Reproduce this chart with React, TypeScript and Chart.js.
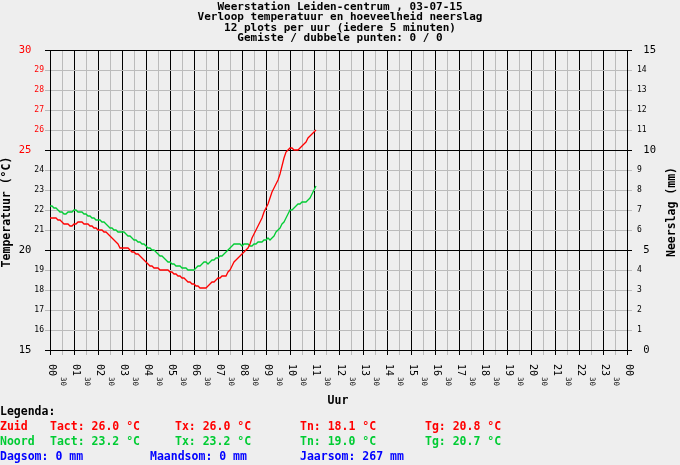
import { useEffect, useRef } from 'react';
import { Chart, registerables } from 'chart.js';

Chart.register(...registerables);

const titleLines = [
  'Weerstation Leiden-centrum , 03-07-15',
  'Verloop temperatuur en hoeveelheid neerslag',
  '12 plots per uur (iedere 5 minuten)',
  'Gemiste / dubbele punten: 0 / 0',
];

// one reading every 5 minutes, starting at 00:00
const zuidTemp = [
  21.6, 21.6, 21.6, 21.6, 21.5, 21.5, 21.4, 21.3, 21.3, 21.3,
  21.2, 21.2, 21.3, 21.3, 21.4, 21.4, 21.4, 21.3, 21.3, 21.3,
  21.2, 21.2, 21.1, 21.1, 21.0, 21.0, 21.0, 20.9, 20.9, 20.8,
  20.7, 20.6, 20.5, 20.4, 20.3, 20.1, 20.1, 20.1, 20.1, 20.1,
  20.0, 19.9, 19.9, 19.8, 19.8, 19.7, 19.6, 19.5, 19.4, 19.3,
  19.2, 19.2, 19.1, 19.1, 19.1, 19.0, 19.0, 19.0, 19.0, 19.0,
  18.9, 18.9, 18.8, 18.8, 18.7, 18.7, 18.6, 18.6, 18.5, 18.4,
  18.4, 18.3, 18.3, 18.2, 18.2, 18.1, 18.1, 18.1, 18.1, 18.2,
  18.3, 18.4, 18.4, 18.5, 18.6, 18.6, 18.7, 18.7, 18.7, 18.9,
  19.0, 19.2, 19.4, 19.5, 19.6, 19.7, 19.8, 19.9, 20.0, 20.1,
  20.3, 20.6, 20.8, 21.0, 21.2, 21.4, 21.6, 21.9, 22.1, 22.3,
  22.6, 22.9, 23.1, 23.3, 23.5, 23.8, 24.2, 24.6, 24.9, 25.0,
  25.1, 25.1, 25.0, 25.0, 25.0, 25.1, 25.2, 25.3, 25.4, 25.6,
  25.7, 25.8, 25.9, 26.0,
];

const noordTemp = [
  22.2, 22.2, 22.1, 22.1, 22.0, 21.9, 21.9, 21.8, 21.8, 21.9,
  21.9, 21.9, 22.0, 22.0, 21.9, 21.9, 21.9, 21.8, 21.8, 21.7,
  21.7, 21.6, 21.6, 21.5, 21.5, 21.5, 21.4, 21.4, 21.3, 21.2,
  21.1, 21.1, 21.0, 21.0, 20.9, 20.9, 20.9, 20.9, 20.8, 20.7,
  20.7, 20.6, 20.5, 20.5, 20.4, 20.4, 20.3, 20.3, 20.2, 20.1,
  20.1, 20.0, 20.0, 19.9, 19.8, 19.7, 19.7, 19.6, 19.5, 19.4,
  19.4, 19.3, 19.3, 19.2, 19.2, 19.2, 19.1, 19.1, 19.1, 19.0,
  19.0, 19.0, 19.0, 19.1, 19.2, 19.2, 19.3, 19.4, 19.4, 19.3,
  19.4, 19.5, 19.5, 19.6, 19.6, 19.7, 19.7, 19.8, 19.9, 20.0,
  20.1, 20.2, 20.3, 20.3, 20.3, 20.3, 20.2, 20.3, 20.3, 20.3,
  20.2, 20.2, 20.3, 20.3, 20.4, 20.4, 20.4, 20.5, 20.5, 20.6,
  20.5, 20.6, 20.7, 20.9, 21.0, 21.1, 21.3, 21.4, 21.6, 21.8,
  22.0, 22.0, 22.1, 22.2, 22.3, 22.3, 22.4, 22.4, 22.4, 22.5,
  22.6, 22.8, 23.0, 23.2,
];

const hourLabels = [
  '00', '01', '02', '03', '04', '05', '06', '07', '08', '09', '10', '11',
  '12', '13', '14', '15', '16', '17', '18', '19', '20', '21', '22', '23', '00',
];

const zuidStats = ['Tact: 26.0 °C', 'Tx: 26.0 °C', 'Tn: 18.1 °C', 'Tg: 20.8 °C'];
const noordStats = ['Tact: 23.2 °C', 'Tx: 23.2 °C', 'Tn: 19.0 °C', 'Tg: 20.7 °C'];
const rainStats = ['Dagsom: 0 mm', 'Maandsom: 0 mm', 'Jaarsom: 267 mm'];

const RED = '#ff0000';
const GREEN = '#00cc33';
const BLUE = '#0000ff';
const GRID = '#bbbbbb';
const MONO = '"DejaVu Sans Mono", monospace';

const isMajor = (v: number) => v % 5 === 0;

const toPoints = (temps: number[]) => temps.map((t, i) => ({ x: (i * 5) / 60, y: t }));

const overlay = {
  id: 'overlay',
  afterDraw(chart: Chart) {
    const { ctx } = chart;
    const xs = chart.scales.x;
    ctx.save();

    // title
    ctx.fillStyle = '#000';
    ctx.font = `bold 11px ${MONO}`;
    ctx.textAlign = 'center';
    ctx.textBaseline = 'middle';
    titleLines.forEach((line, i) => ctx.fillText(line, 340, 7 + i * 10.5));

    // hour labels, rotated clockwise
    ctx.textAlign = 'left';
    hourLabels.forEach((label, h) => {
      const px = xs.getPixelForValue(h);
      ctx.save();
      ctx.translate(px + 2, 364);
      ctx.rotate(Math.PI / 2);
      ctx.font = `10px ${MONO}`;
      ctx.fillText(label, 0, 0);
      ctx.restore();
      if (h < 24) {
        const hx = xs.getPixelForValue(h + 0.5);
        ctx.save();
        ctx.translate(hx + 1, 377);
        ctx.rotate(Math.PI / 2);
        ctx.font = `7.5px ${MONO}`;
        ctx.fillText('30', 0, 0);
        ctx.restore();
      }
    });

    // axis titles
    ctx.font = `bold 11.5px ${MONO}`;
    ctx.textAlign = 'center';
    ctx.fillText('Uur', 338, 401);
    [['Temperatuur (°C)', 7.5], ['Neerslag (mm)', 672.5]].forEach(([text, x]) => {
      ctx.save();
      ctx.translate(x as number, 212);
      ctx.rotate(-Math.PI / 2);
      ctx.fillText(text as string, 0, 0);
      ctx.restore();
    });

    // legend block
    ctx.textAlign = 'left';
    ctx.fillText('Legenda:', 0, 412);
    const cols = [50, 175, 300, 425];
    ctx.fillStyle = RED;
    ctx.fillText('Zuid', 0, 427);
    zuidStats.forEach((s, i) => ctx.fillText(s, cols[i], 427));
    ctx.fillStyle = GREEN;
    ctx.fillText('Noord', 0, 442);
    noordStats.forEach((s, i) => ctx.fillText(s, cols[i], 442));
    ctx.fillStyle = BLUE;
    rainStats.forEach((s, i) => ctx.fillText(s, i * 150, 457));

    ctx.restore();
  },
};

export default function App() {
  const canvasRef = useRef<HTMLCanvasElement>(null);
  const chartRef = useRef<Chart | null>(null);

  useEffect(() => {
    document.body.style.margin = '0';
    if (!canvasRef.current) return;
    if (chartRef.current) chartRef.current.destroy();

    const gridColor = (ctx: any) => (ctx.tick && isMajor(ctx.tick.value) ? '#000' : GRID);

    chartRef.current = new Chart(canvasRef.current, {
      type: 'line',
      data: {
        datasets: [
          {
            label: 'Zuid',
            data: toPoints(zuidTemp),
            borderColor: RED,
            borderWidth: 1.3,
            pointRadius: 0,
            tension: 0,
            yAxisID: 'y',
          },
          {
            label: 'Noord',
            data: toPoints(noordTemp),
            borderColor: GREEN,
            borderWidth: 1.3,
            pointRadius: 0,
            tension: 0,
            yAxisID: 'y',
          },
        ],
      },
      options: {
        responsive: false,
        animation: false,
        devicePixelRatio: 1,
        layout: { padding: { top: 50 } },
        plugins: {
          legend: { display: false },
          title: { display: false },
          tooltip: { enabled: false },
        },
        scales: {
          x: {
            type: 'linear',
            min: 0,
            max: 24,
            alignToPixels: true,
            afterFit: (s: any) => {
              s.height = 115;
            },
            ticks: { display: false, stepSize: 0.5, maxTicksLimit: 100 },
            grid: {
              color: (ctx: any) => (ctx.tick && ctx.tick.value % 1 === 0 ? '#000' : GRID),
              tickLength: 5,
            },
            border: { display: true, color: '#000' },
          },
          y: {
            position: 'left',
            min: 15,
            max: 30,
            alignToPixels: true,
            afterFit: (s: any) => {
              s.width = 50;
            },
            ticks: {
              stepSize: 1,
              maxTicksLimit: 100,
              padding: 1,
              callback: (v: any) => (isMajor(v) ? `${v}  ` : `${v}`),
              color: (ctx: any) => (ctx.tick && ctx.tick.value >= 25 ? RED : '#000'),
              font: (ctx: any) =>
                ctx.tick && isMajor(ctx.tick.value)
                  ? { family: MONO, size: 10.5 }
                  : { family: MONO, size: 8 },
            },
            grid: { color: gridColor, tickLength: 5 },
            border: { display: true, color: '#000' },
          },
          y1: {
            position: 'right',
            min: 0,
            max: 15,
            alignToPixels: true,
            afterFit: (s: any) => {
              s.width = 53;
            },
            ticks: {
              stepSize: 1,
              maxTicksLimit: 100,
              padding: 5,
              callback: (v: any) => (isMajor(v) ? ` ${v}` : `${v}`),
              color: '#000',
              font: (ctx: any) =>
                ctx.tick && isMajor(ctx.tick.value)
                  ? { family: MONO, size: 10.5 }
                  : { family: MONO, size: 8 },
            },
            grid: { drawOnChartArea: false, color: gridColor, tickLength: 5 },
            border: { display: true, color: '#000' },
          },
        },
      },
      plugins: [overlay],
    });

    return () => {
      if (chartRef.current) {
        chartRef.current.destroy();
        chartRef.current = null;
      }
    };
  }, []);

  return (
    <div style={{ width: 680, height: 465, background: '#eeeeee' }}>
      <canvas ref={canvasRef} width={680} height={465} style={{ display: 'block' }} />
    </div>
  );
}
